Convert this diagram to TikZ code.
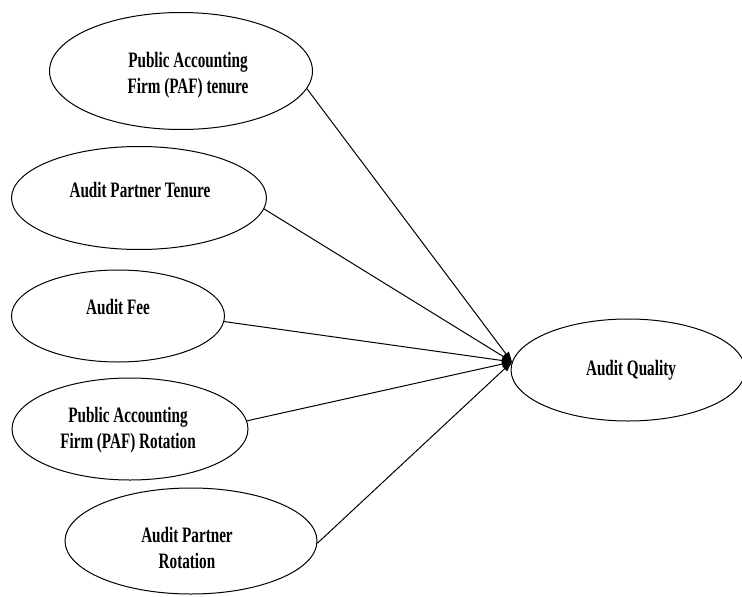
\documentclass[tikz,border=0pt]{standalone}
\usepackage{fontspec}
\setmainfont{Liberation Serif}[FakeStretch=0.69]
\usetikzlibrary{shapes.geometric,arrows.meta}
\begin{document}
\begin{tikzpicture}[x=1pt,y=-1pt,
  oval/.style={draw=black,ellipse,line width=1pt,inner sep=0pt},
  lbl/.style={font=\fontsize{22}{26}\selectfont\bfseries,align=center,inner sep=0pt},
  link/.style={draw=black,line width=1pt,-{Triangle[length=10pt,width=7pt]}}]
\useasboundingbox (0,0) rectangle (742,597);
\node[oval,minimum width=263pt,minimum height=117pt] (e1) at (181,71) {};
\node[oval,minimum width=255pt,minimum height=103pt] (e2) at (139,198) {};
\node[oval,minimum width=213pt,minimum height=92pt] (e3) at (118,316) {};
\node[oval,minimum width=236pt,minimum height=102pt] (e4) at (130,429) {};
\node[oval,minimum width=252pt,minimum height=106pt] (e5) at (191,541) {};
\node[oval,minimum width=234pt,minimum height=102pt] (aq) at (628,370) {};
\node[lbl] (t1) at (188,75) {Public Accounting\\Firm (PAF) tenure};
\node[lbl] (t2) at (140,190) {Audit Partner Tenure};
\node[lbl] (t3) at (118,307) {Audit Fee};
\node[lbl] (t4) at (128,430) {Public Accounting\\Firm (PAF) Rotation};
\node[lbl] (t5) at (187,548) {Audit Partner\\Rotation};
\node[lbl] (taq) at (631,370) {Audit Quality};
\draw[link] (e1.-8) -- (aq.176);
\draw[link] (e2.-5) -- (aq.176);
\draw[link] (e3.-3) -- (aq.176);
\draw[link] (e4.4) -- (aq.176);
\draw[link] (e5.-1) -- (aq.176);
\end{tikzpicture}
\end{document}
